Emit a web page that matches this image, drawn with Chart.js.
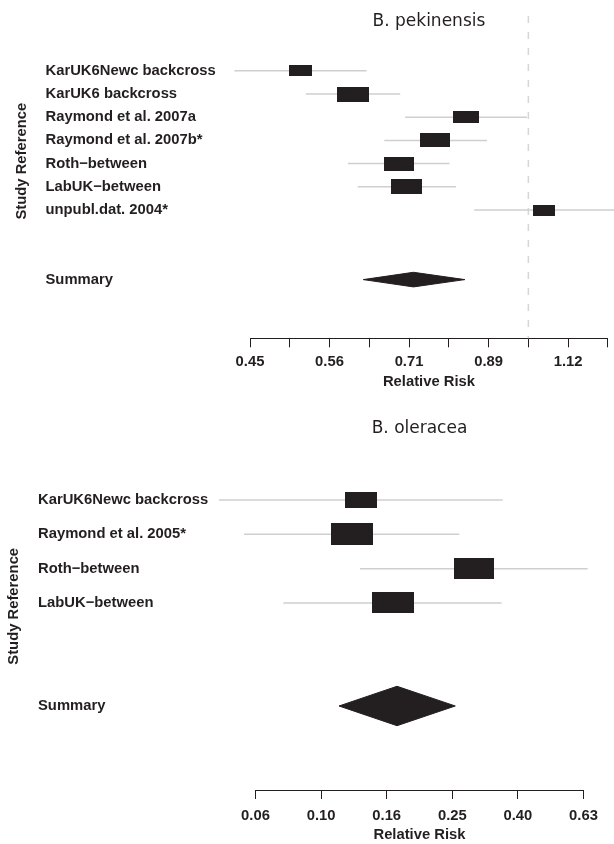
<!DOCTYPE html>
<html>
<head>
<meta charset="utf-8">
<script src="https://cdn.jsdelivr.net/npm/chart.js@4.4.1/dist/chart.umd.min.js"></script>
<style>
  html, body { margin: 0; padding: 0; background: #ffffff; overflow: hidden; }
  #wrap { position: relative; width: 614px; height: 844px; }
  canvas { position: absolute; left: 0; }
  #c1 { top: 0; }
  #c2 { top: 400px; }
</style>
</head>
<body>
<div id="wrap">
  <canvas id="c1" width="614" height="400"></canvas>
  <canvas id="c2" width="614" height="444"></canvas>
</div>
<script>
// ---------------- DATA ----------------
const pekTitle = 'B. pekinensis';
const pekStudies = ['KarUK6Newc backcross', 'KarUK6 backcross', 'Raymond et al. 2007a',
  'Raymond et al. 2007b*', 'Roth\u2212between', 'LabUK\u2212between', 'unpubl.dat. 2004*'];
const pekRR     = [0.517, 0.602, 0.835, 0.764, 0.687, 0.703, 1.047];
const pekLower  = [0.427, 0.525, 0.700, 0.659, 0.593, 0.610, 0.855];
const pekUpper  = [0.626, 0.690, 0.996, 0.887, 0.796, 0.811, 1.284];
const pekWeight = [0.72, 1.00, 0.80, 0.93, 0.925, 0.97, 0.70];
const pekSummary = [0.717, 0.620, 0.832];          // estimate, lower, upper
const pekTicks = [0.4467, 0.5012, 0.5623, 0.6310, 0.7079, 0.7943, 0.8913, 1.0, 1.1220, 1.2589];
const pekTickLabels = ['0.45', '', '0.56', '', '0.71', '', '0.89', '', '1.12', ''];

const oleTitle = 'B. oleracea';
const oleStudies = ['KarUK6Newc backcross', 'Raymond et al. 2005*', 'Roth\u2212between', 'LabUK\u2212between'];
const oleRR     = [0.1323, 0.1240, 0.2923, 0.1652];
const oleLower  = [0.0488, 0.0582, 0.1314, 0.0767];
const oleUpper  = [0.3578, 0.2638, 0.6499, 0.3552];
const oleWeight = [0.755, 1.00, 0.945, 0.99];
const oleSummary = [0.1704, 0.1134, 0.2565];
const oleTicks = [0.0631, 0.1, 0.1585, 0.2512, 0.3981, 0.6310];
const oleTickLabels = ['0.06', '0.10', '0.16', '0.25', '0.40', '0.63'];

const nullEffect = 1;
const summaryLabel = 'Summary';
const xAxisTitle = 'Relative Risk';
const yAxisTitle = 'Study Reference';

// ---------------- STYLE ----------------
const INK = '#231f20';
const WHISKER = '#cfcfcf';
const REFLINE = '#d6d6d6';
const FS = 14.8;
const HALF_LH = FS * 1.2 / 2;
const boldFont = { family: "'Liberation Sans', Arial, Helvetica, sans-serif", size: FS, weight: 'bold' };

Chart.defaults.color = INK;
Chart.defaults.font.family = "'Liberation Sans', Arial, Helvetica, sans-serif";

function boxImage(w, h) {
  const c = document.createElement('canvas');
  c.width = Math.max(1, Math.round(w));
  c.height = Math.max(1, Math.round(h));
  const g = c.getContext('2d');
  g.fillStyle = INK;
  g.fillRect(0, 0, c.width, c.height);
  return c;
}

const yTitleShift = {
  id: 'yTitleShift',
  afterLayout(chart, args, opts) {
    const s = chart.scales.yTitle;
    if (!s || opts.center == null) return;
    const half = (s.bottom - s.top) / 2;
    s.top = opts.center - half;
    s.bottom = opts.center + half;
  }
};

function forest(canvasId, d, s) {
  const n = d.studies.length;
  const rows = d.studies.map((_, i) => i).concat([n + 2]);
  const rowLabels = d.studies.concat([summaryLabel]);
  const sRow = n + 2;

  const whiskers = [];
  d.lower.forEach((lo, i) => {
    whiskers.push({ x: lo, y: i }, { x: d.upper[i], y: i }, { x: d.upper[i], y: null });
  });

  const datasets = [
    {
      label: 'studies',
      data: d.rr.map((v, i) => ({ x: v, y: i })),
      showLine: false,
      pointStyle: d.weight.map(w => boxImage(s.boxMaxW * w, s.boxMaxH * w)),
      pointRadius: 6, pointHoverRadius: 6, pointBorderWidth: 0,
      order: 0, clip: false
    },
    {
      label: 'summary',
      data: [
        { x: d.summary[1], y: sRow },
        { x: d.summary[0], y: sRow - s.diamondHalf },
        { x: d.summary[2], y: sRow },
        { x: d.summary[0], y: sRow + s.diamondHalf },
        { x: d.summary[1], y: sRow }
      ],
      fill: 'shape', backgroundColor: INK, borderColor: INK, borderWidth: 1,
      pointRadius: 0, tension: 0, order: 1, clip: false
    },
    {
      label: 'ci',
      data: whiskers,
      borderColor: WHISKER, borderWidth: 1.5, pointRadius: 0, spanGaps: false,
      order: 2, clip: false
    }
  ];
  if (s.showRef) {
    datasets.push({
      label: 'ref',
      data: [{ x: nullEffect, y: s.refTop }, { x: nullEffect, y: s.yMax }],
      borderColor: REFLINE, borderWidth: 1.5, borderDash: [7, 9], pointRadius: 0,
      order: 3, clip: false
    });
  }
  datasets.forEach(ds => { ds.xAxisID = 'x'; ds.yAxisID = 'y'; });

  return new Chart(document.getElementById(canvasId), {
    type: 'line',
    data: { datasets },
    plugins: [yTitleShift],
    options: {
      responsive: false, animation: false, devicePixelRatio: 1, events: [],
      layout: { padding: { left: 0, right: s.padRight, top: 0, bottom: 0 } },
      plugins: {
        legend: { display: false },
        tooltip: { enabled: false },
        title: {
          display: true, text: d.title, fullSize: false, color: INK,
          font: { family: "'DejaVu Sans', sans-serif", size: 17, weight: 'normal' },
          padding: { top: s.titleTop, bottom: s.titleBottom }
        },
        yTitleShift: { center: s.yTitleCenter }
      },
      scales: {
        x: {
          type: 'logarithmic',
          min: d.ticks[0], max: d.ticks[d.ticks.length - 1],
          afterBuildTicks: sc => { sc.ticks = d.ticks.map(v => ({ value: v })); },
          afterFit: sc => { sc.height = s.xAxisHeight; },
          ticks: {
            autoSkip: false, maxRotation: 0, minRotation: 0, padding: s.xTickPad,
            color: INK, font: boldFont,
            callback: (v, i) => d.tickLabels[i]
          },
          grid: { display: true, drawOnChartArea: false, drawTicks: true, tickLength: 9, color: INK, lineWidth: 1 },
          border: { display: true, color: INK, width: 1 },
          title: { display: true, text: xAxisTitle, color: INK, font: boldFont, padding: { top: 0, bottom: s.xTitlePad } }
        },
        y: {
          type: 'linear', position: 'left', reverse: true, weight: 0,
          min: s.yMin, max: s.yMax,
          afterBuildTicks: sc => { sc.ticks = rows.map(v => ({ value: v })); },
          afterFit: sc => { sc.width = s.chartLeft - s.yTitleWidth; },
          ticks: { autoSkip: false, crossAlign: 'far', color: INK, font: boldFont, callback: (v, i) => rowLabels[i] },
          grid: { display: false },
          border: { display: false }
        },
        yTitle: {
          type: 'linear', axis: 'y', position: 'left', weight: 1,
          afterFit: sc => { sc.width = s.yTitleWidth; },
          ticks: { display: false },
          grid: { display: false },
          border: { display: false },
          title: { display: true, text: yAxisTitle, color: INK, font: boldFont, padding: { top: s.yTitleX - HALF_LH, bottom: 0 } }
        }
      }
    }
  });
}

forest('c1',
  { title: pekTitle, studies: pekStudies, rr: pekRR, lower: pekLower, upper: pekUpper,
    weight: pekWeight, summary: pekSummary, ticks: pekTicks, tickLabels: pekTickLabels },
  { yMin: -1.5, yMax: 11.53, titleTop: 10.9, titleBottom: 4.7,
    yTitleWidth: 45.5, yTitleX: 22, yTitleCenter: 161.2,
    chartLeft: 250, padRight: 4.7, xAxisHeight: 61.7, xTickPad: 6.1, xTitlePad: 9.4,
    boxMaxH: 15.2, boxMaxW: 32.1, diamondHalf: 0.315, showRef: true, refTop: -2.36 });

forest('c2',
  { title: oleTitle, studies: oleStudies, rr: oleRR, lower: oleLower, upper: oleUpper,
    weight: oleWeight, summary: oleSummary, ticks: oleTicks, tickLabels: oleTickLabels },
  { yMin: -1, yMax: 8.447, titleTop: 18.6, titleBottom: 26.67,
    yTitleWidth: 38, yTitleX: 14.4, yTitleCenter: 206.3,
    chartLeft: 255.5, padRight: 30.5, xAxisHeight: 54, xTickPad: 7.8, xTitlePad: 0,
    boxMaxH: 21.7, boxMaxW: 42.3, diamondHalf: 0.574, showRef: false });
</script>
</body>
</html>
